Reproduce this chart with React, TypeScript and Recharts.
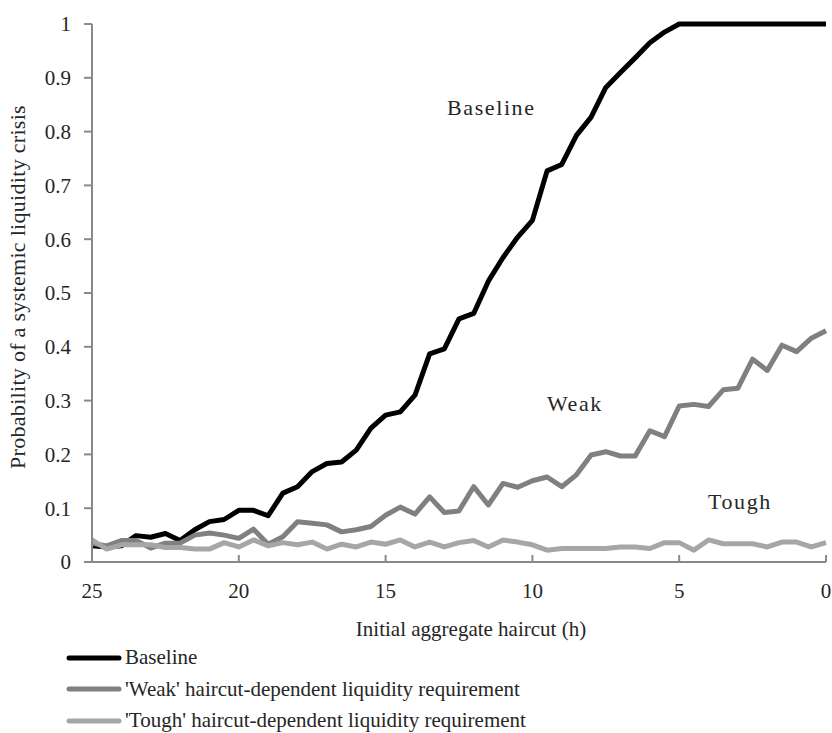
import { LineChart, Line, XAxis, YAxis, Legend, ReferenceDot } from "recharts";

// initial aggregate haircut, from 25 down to 0
const haircut = [
  25, 24.5, 24, 23.5, 23, 22.5, 22, 21.5, 21, 20.5, 20, 19.5, 19, 18.5, 18, 17.5, 17,
  16.5, 16, 15.5, 15, 14.5, 14, 13.5, 13, 12.5, 12, 11.5, 11, 10.5, 10, 9.5, 9, 8.5, 8,
  7.5, 7, 6.5, 6, 5.5, 5, 4.5, 4, 3.5, 3, 2.5, 2, 1.5, 1, 0.5, 0,
];

const baseline = [
  0.03, 0.028, 0.03, 0.049, 0.046, 0.053, 0.04, 0.06, 0.075, 0.079, 0.096, 0.096, 0.086,
  0.128, 0.14, 0.168, 0.183, 0.186, 0.208, 0.249, 0.273, 0.279, 0.31, 0.387, 0.396,
  0.452, 0.462, 0.522, 0.566, 0.604, 0.635, 0.727, 0.739, 0.793, 0.827, 0.882, 0.91,
  0.937, 0.965, 0.985, 1, 1, 1, 1, 1, 1, 1, 1, 1, 1, 1,
];

const weak = [
  0.035, 0.03, 0.04, 0.04, 0.026, 0.035, 0.035, 0.05, 0.054, 0.05, 0.044, 0.061, 0.033,
  0.047, 0.075, 0.072, 0.069, 0.056, 0.06, 0.066, 0.087, 0.102, 0.089, 0.121, 0.092,
  0.095, 0.14, 0.106, 0.146, 0.139, 0.151, 0.158, 0.14, 0.162, 0.199, 0.205, 0.197,
  0.197, 0.244, 0.233, 0.29, 0.293, 0.289, 0.32, 0.323, 0.377, 0.356, 0.403, 0.391,
  0.416, 0.43,
];

const tough = [
  0.041, 0.024, 0.032, 0.032, 0.032, 0.027, 0.027, 0.024, 0.024, 0.036, 0.028, 0.041,
  0.03, 0.036, 0.032, 0.037, 0.024, 0.033, 0.028, 0.037, 0.033, 0.041, 0.028, 0.037,
  0.028, 0.036, 0.04, 0.028, 0.041, 0.037, 0.032, 0.022, 0.025, 0.025, 0.025, 0.025,
  0.028, 0.028, 0.025, 0.036, 0.036, 0.022, 0.041, 0.034, 0.034, 0.034, 0.028, 0.037,
  0.037, 0.028, 0.036,
];

const xTicks = [25, 20, 15, 10, 5, 0];
const yTicks = [0, 0.1, 0.2, 0.3, 0.4, 0.5, 0.6, 0.7, 0.8, 0.9, 1];

const series = [
  { key: "baseline", name: "Baseline", color: "#000000" },
  { key: "weak", name: "'Weak' haircut-dependent liquidity requirement", color: "#808080" },
  { key: "tough", name: "'Tough' haircut-dependent liquidity requirement", color: "#a6a6a6" },
];

// in-plot series labels
const notes = [
  { text: "Baseline", h: 11.4, v: 0.845 },
  { text: "Weak", h: 8.55, v: 0.295 },
  { text: "Tough", h: 2.93, v: 0.113 },
];

const data = haircut.map((h, i) => ({
  h,
  baseline: baseline[i],
  weak: weak[i],
  tough: tough[i],
}));

const font = "'Liberation Serif', 'Times New Roman', Times, serif";
const textColor = "#262626";
const axisColor = "#898989";

function LegendRows() {
  return (
    <div style={{ height: 91, paddingLeft: 66, fontFamily: font }}>
      {series.map((s) => (
        <div key={s.key} style={{ display: "flex", alignItems: "center", height: 31.5 }}>
          <svg width={59} height={10}>
            <line x1={3} y1={5} x2={53} y2={5} stroke={s.color} strokeWidth={5} strokeLinecap="round" />
          </svg>
          <span style={{ fontSize: 21, color: textColor, fontFamily: font }}>{s.name}</span>
        </div>
      ))}
    </div>
  );
}

export default function App() {
  return (
    <div style={{ position: "absolute", left: 0, top: 0, background: "#fff", fontFamily: font }}>
      <LineChart
        width={832}
        height={733}
        data={data}
        margin={{ top: 24, right: 6, left: 0, bottom: 0 }}
        style={{ fontFamily: font }}
      >
        <XAxis
          dataKey="h"
          type="number"
          domain={[0, 25]}
          reversed
          ticks={xTicks}
          stroke={axisColor}
          strokeWidth={2}
          tickSize={-7}
          tickMargin={28}
          tick={{ fontSize: 21, fill: textColor, fontFamily: font }}
          height={80}
          label={{
            value: "Initial aggregate haircut (h)",
            position: "insideTop",
            offset: 59,
            dx: 12,
            fontSize: 21,
            fill: textColor,
            fontFamily: font,
          }}
        />
        <YAxis
          type="number"
          domain={[0, 1]}
          ticks={yTicks}
          width={92}
          stroke={axisColor}
          strokeWidth={2}
          tickSize={8}
          tickMargin={13}
          tick={{ fontSize: 21, fill: textColor, fontFamily: font }}
          tickFormatter={(v: number) => (v === 0 || v === 1 ? String(v) : v.toFixed(1))}
          label={{
            value: "Probability of a systemic liquidity crisis",
            angle: -90,
            position: "insideLeft",
            offset: 17,
            dy: -6,
            fontSize: 22,
            fill: textColor,
            fontFamily: font,
            letterSpacing: 0.3,
            style: { textAnchor: "middle" },
          }}
        />
        <Legend verticalAlign="bottom" align="left" content={() => <LegendRows />} />
        {series.map((s) => (
          <Line
            key={s.key}
            dataKey={s.key}
            name={s.name}
            type="linear"
            stroke={s.color}
            strokeWidth={5}
            strokeLinejoin="round"
            dot={false}
            isAnimationActive={false}
          />
        ))}
        {notes.map((n) => (
          <ReferenceDot
            key={n.text}
            x={n.h}
            y={n.v}
            r={0}
            stroke="none"
            label={{
              value: n.text,
              position: "center",
              fontSize: 22,
              fill: textColor,
              fontFamily: font,
              letterSpacing: 1.6,
            }}
          />
        ))}
      </LineChart>
    </div>
  );
}
